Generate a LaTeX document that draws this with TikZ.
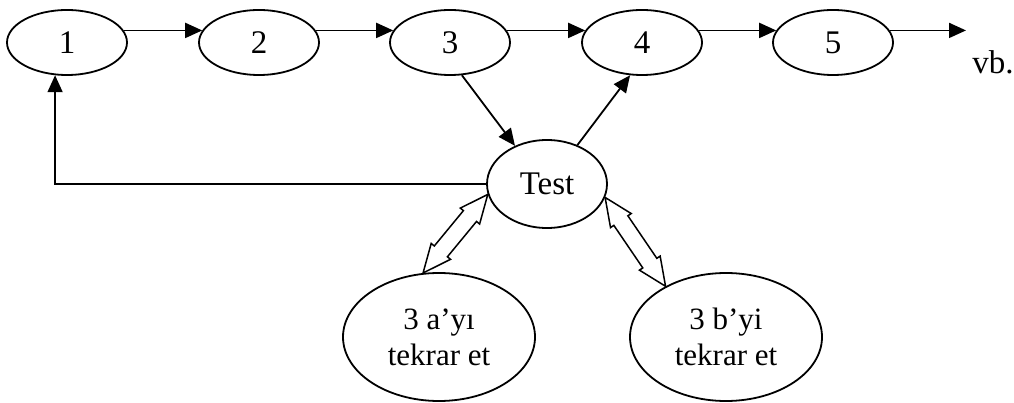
\documentclass[tikz,border=0pt]{standalone}
\usepackage{fontspec}
\setmainfont{Liberation Serif}
\usetikzlibrary{arrows.meta,shapes.geometric,calc}
\newcommand\dblarr[2]{%
  \coordinate (pa) at ($(#1)!28pt!(#2)$);
  \coordinate (pb) at ($(#2)!28pt!(#1)$);
  \draw[blockarrow] (#1) -- ($(pa)!12.5pt!90:(#2)$) -- ($(pa)!8.5pt!90:(#2)$)
    -- ($(pb)!8.5pt!-90:(#1)$) -- ($(pb)!12.5pt!-90:(#1)$) -- (#2)
    -- ($(pb)!12.5pt!90:(#1)$) -- ($(pb)!8.5pt!90:(#1)$)
    -- ($(pa)!8.5pt!-90:(#2)$) -- ($(pa)!12.5pt!-90:(#2)$) -- cycle;}
\begin{document}
\begin{tikzpicture}[x=1pt,y=-1pt,
  stepell/.style={draw,ellipse,line width=1.8pt,inner sep=0pt,minimum width=120pt,minimum height=65pt,font=\fontsize{33}{33}\selectfont},
  testell/.style={draw,ellipse,line width=1.8pt,inner sep=0pt,minimum width=120pt,minimum height=88pt,font=\fontsize{33}{33}\selectfont},
  repell/.style={draw,ellipse,line width=1.8pt,inner sep=0pt,minimum width=192pt,minimum height=128pt,align=center,font=\fontsize{31}{36}\selectfont},
  conn/.style={line width=1.8pt,-{Triangle[length=17pt,width=15pt]}},
  blockarrow/.style={line width=1.5pt,line join=miter,fill=white}]
\useasboundingbox (0,0) rectangle (1014,403);
\node[stepell] (n1) at (67,42.5) {1};
\node[stepell] (n2) at (259,42.5) {2};
\node[stepell] (n3) at (450,42.5) {3};
\node[stepell] (n4) at (642,42.5) {4};
\node[stepell] (n5) at (833,42.5) {5};
\node[font=\fontsize{33}{33}\selectfont,inner sep=0pt] (vb) at (993,62) {vb.};
\coordinate (endx) at (966,31);
\node[testell] (test) at (547,184) {Test};
\node[repell] (ra) at (439,337) {3 a’yı\\tekrar et};
\node[repell] (rb) at (726,337) {3 b’yi\\tekrar et};
\draw[conn] (n1.12) -- (n2.168);
\draw[conn] (n2.12) -- (n3.168);
\draw[conn] (n3.12) -- (n4.168);
\draw[conn] (n4.12) -- (n5.168);
\draw[conn] (n5.12) -- (n5.12 -| endx);
\draw[conn] (n3.-70) -- (test.130);
\draw[conn] (test.52) -- (n4.-110);
\draw[conn] (test.west) -| (n1.-110.7);
\dblarr{test.190}{ra.104}
\dblarr{test.-13}{rb.140}
\end{tikzpicture}
\end{document}
